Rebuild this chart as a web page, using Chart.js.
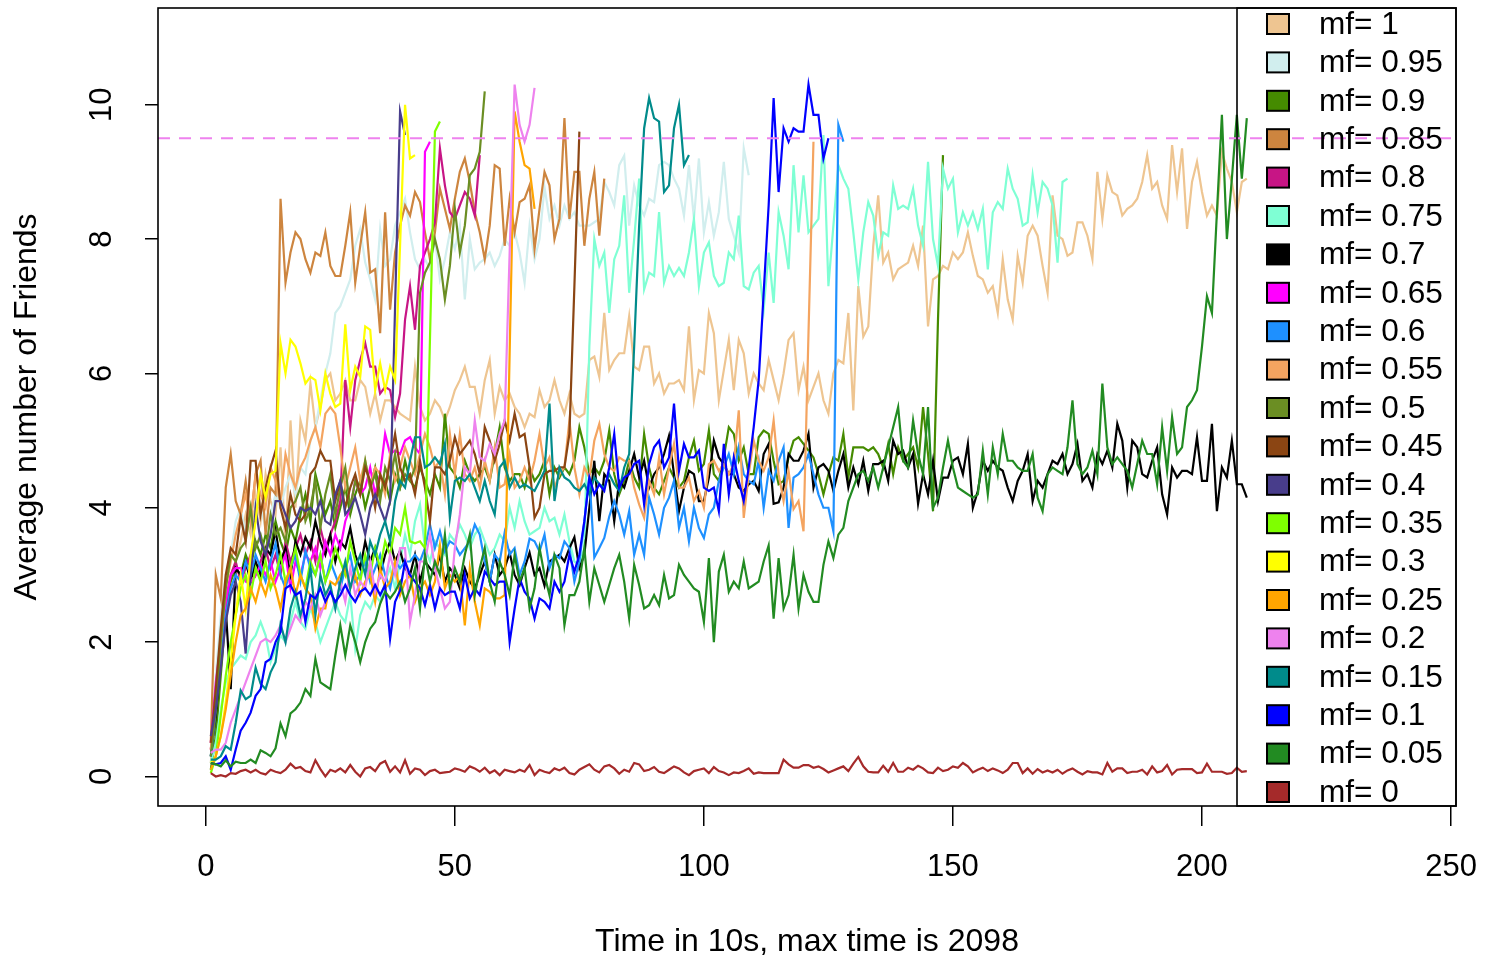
<!DOCTYPE html>
<html>
<head>
<meta charset="utf-8">
<script src="https://cdn.jsdelivr.net/npm/chart.js@4"></script>
<style>
  html, body { margin: 0; padding: 0; background: #fff; }
  #wrap { width: 1493px; height: 959px; }
</style>
</head>
<body>
<div id="wrap"><canvas id="friendsChart" width="1493" height="959"></canvas></div>
<script>
// legend labels and line colours, in legend order (mf=1 first)
const mfLabels = ['mf= 1','mf= 0.95','mf= 0.9','mf= 0.85','mf= 0.8','mf= 0.75','mf= 0.7','mf= 0.65','mf= 0.6','mf= 0.55','mf= 0.5','mf= 0.45','mf= 0.4','mf= 0.35','mf= 0.3','mf= 0.25','mf= 0.2','mf= 0.15','mf= 0.1','mf= 0.05','mf= 0'];
const lineColors = ['#EEC591','#D1EEEE','#458B00','#CD853F','#C71585','#7FFFD4','#000000','#FF00FF','#1E90FF','#F4A460','#6B8E23','#8B4513','#483D8B','#7FFF00','#FFFF00','#FFA500','#EE82EE','#008B8B','#0000FF','#228B22','#A52A2A'];

const xTicks = [0, 50, 100, 150, 200, 250];
const yTicks = [0, 2, 4, 6, 8, 10];
const targetLevel = 9.5;

// average number of friends, one value per 10s step starting at t=1
const mf1 = [0.2,1.0,1.8,2.5,3.0,3.2,3.5,3.9,3.6,4.2, 3.8,4.5,4.1,3.9,4.9,3.4,5.3,4.0,5.3,5.0,
  5.85,5.2,5.5,5.9,6.0,5.6,5.7,5.9,5.6,5.6, 5.9,5.8,5.4,5.7,5.3,5.6,5.6,5.5,5.4,5.35,
  5.3,6.1,5.5,5.3,5.4,5.6,5.5,5.3,5.5,5.75, 5.9,6.1,5.8,5.8,5.4,5.9,6.2,5.4,5.8,5.6,
  5.7,5.5,5.4,5.2,5.4,5.35,5.75,5.5,5.6,5.9, 5.6,5.4,5.7,5.4,5.35,5.4,6.2,6.25,5.95,6.9,
  6.05,6.2,6.3,6.3,6.85,6.1,6.05,6.4,6.4,5.85, 6.0,5.7,5.85,5.85,5.9,5.75,6.7,5.6,6.05,6.0,
  6.9,6.6,5.6,6.05,6.5,5.75,6.5,6.3,5.7,6.0, 5.85,5.75,6.2,5.9,5.6,6.0,6.5,6.6,5.75,6.1,
  5.6,5.8,6.0,5.6,5.4,6.0,6.2,6.15,6.9,5.45, 7.3,6.55,6.7,7.9,8.65,7.65,7.8,7.4,7.55,7.6,
  7.65,7.9,7.6,8.2,6.7,7.4,7.45,7.6,7.55,7.8, 7.7,7.8,8.1,7.75,7.45,7.4,7.2,7.3,6.9,7.7,
  7.1,6.8,7.75,7.35,8.05,8.2,8.05,7.6,7.2,8.65, 8.05,8.0,7.75,7.8,8.25,8.25,8.05,7.7,9.0,8.3,
  8.95,8.7,8.65,8.35,8.45,8.5,8.6,8.85,9.25,8.75, 8.85,8.5,8.3,9.4,8.7,9.35,8.15,8.85,9.15,8.7,
  8.35,8.5,8.35,9.3,9.05,8.85,8.4,8.85,8.9];
const mf095 = [0.3,1.5,2.4,3.0,3.3,3.8,4.0,3.6,3.9,4.1, 4.0,3.7,3.9,4.2,4.0,4.3,4.5,4.2,4.6,4.5,
  5.0,5.2,5.6,6.0,6.3,6.9,7.0,7.2,7.4,7.9, 8.15,7.65,7.4,7.1,8.15,7.6,7.7,8.2,8.4,8.6,
  8.1,7.7,7.55,7.7,7.55,8.0,7.4,7.7,8.1,7.85, 8.2,7.1,8.0,7.55,7.65,7.7,7.8,7.6,7.75,8.0,
  7.9,8.1,7.8,7.35,8.2,7.7,8.0,8.77,8.3,8.5, 8.2,8.5,8.3,8.4,8.2,8.2,8.2,8.25,8.3,8.85,
  8.7,8.5,9.1,9.24,8.2,8.8,8.5,8.35,8.6,8.55, 9.1,9.15,9.1,8.9,8.75,8.35,9.1,8.3,9.2,8.1,
  8.55,8.05,8.4,9.15,8.3,8.05,7.8,9.35,8.95];
const mf09 = [0.1,0.6,1.5,2.4,2.9,3.1,3.0,3.3,3.1,3.5, 3.3,3.6,3.4,3.8,3.5,3.3,3.7,3.5,3.9,4.2,
  3.8,4.5,4.2,3.9,4.1,3.7,4.0,4.3,3.9,4.2, 4.4,4.0,4.3,4.6,4.2,4.4,4.1,4.5,4.3,4.7,
  4.4,4.3,4.6,4.4,4.2,4.5,4.3,5.4,4.6,4.5, 4.3,4.7,4.5,4.4,4.5,4.6,4.4,4.8,5.2,4.6,
  4.4,4.5,4.5,4.3,4.6,4.4,4.5,4.7,4.2,4.6, 4.45,4.6,4.5,4.7,5.2,4.9,4.5,4.6,4.5,4.7,
  5.15,4.5,4.2,4.4,4.7,4.45,4.3,5.1,4.6,4.3, 4.2,4.4,4.6,4.45,4.3,4.4,4.75,5.0,4.55,4.65,
  5.15,4.5,4.4,4.75,5.2,5.1,4.7,4.9,4.5,4.5, 5.05,5.15,5.1,4.7,4.35,4.4,4.75,5.0,5.05,4.95,
  4.85,4.75,4.5,4.2,4.5,4.75,4.7,5.1,4.45,4.9, 4.9,4.9,4.85,4.9,4.8,4.6,4.95,4.5,4.9,4.7,
  4.8,4.9,4.6,5.5,4.8,3.95,6.8,9.25];
const mf085 = [0.5,3.0,2.65,4.3,4.8,4.1,3.9,4.4,3.8,4.5, 4.7,3.6,4.3,4.2,8.6,7.35,7.8,8.1,8.0,7.7,
  7.5,7.8,7.75,8.1,7.6,7.45,7.45,7.9,8.4,7.35, 7.9,8.4,7.5,7.55,6.6,8.4,6.95,7.8,8.2,8.5,
  8.35,8.7,8.55,8.1,7.7,8.1,8.75,8.45,8.15,8.6, 9.0,9.2,8.85,8.4,8.1,7.7,8.2,9.1,9.05,7.9,
  8.6,8.1,8.55,8.6,8.8,7.85,8.45,9.0,8.8,8.0, 8.3,9.8,8.3,9.0,9.0,7.9,8.6,9.0,8.05,8.9];
const mf08 = [0.4,1.2,2.0,2.6,3.0,3.2,2.9,3.1,3.3,3.0, 3.2,3.4,3.1,3.3,3.0,3.5,3.2,3.4,3.6,3.3,
  3.5,3.2,3.7,3.4,3.6,3.8,4.1,5.9,5.2,5.9, 6.2,6.45,6.1,6.1,5.7,5.8,5.75,5.35,5.7,6.8,
  7.3,6.65,7.6,7.8,8.0,8.25,9.35,8.8,8.4,8.3, 8.5,8.7,8.6,8.35,9.25];
const mf075 = [0.2,0.5,1.0,1.4,1.6,1.7,1.8,1.75,2.0,2.1, 2.3,2.1,1.7,1.9,2.1,2.0,2.3,2.6,2.3,2.2,
  2.5,2.3,2.0,2.2,2.4,2.6,2.4,2.3,2.7,1.9, 2.4,2.6,2.5,2.7,2.6,2.9,3.1,2.8,3.2,3.6,
  3.3,3.8,4.05,3.4,3.2,3.5,3.4,3.3,3.6,3.5, 3.75,3.6,3.4,3.6,3.7,3.5,3.3,3.4,3.6,3.5,
  4.0,3.7,4.1,3.8,3.6,3.65,3.7,4.0,3.8,3.85, 3.6,3.9,3.5,3.2,3.15,3.4,6.4,8.0,7.6,7.8,
  6.9,7.7,7.9,8.65,7.2,8.0,8.9,7.25,7.5,7.45, 8.4,7.35,7.6,7.45,7.57,7.45,7.8,8.3,7.3,7.8,
  7.95,7.45,7.3,7.35,7.8,7.7,8.35,7.3,7.25,7.5, 7.6,6.95,7.8,7.05,8.4,8.05,7.55,9.1,8.1,8.95,
  8.1,8.2,8.3,9.55,7.3,8.2,9.1,8.9,8.75,8.1, 7.4,8.1,8.55,8.35,7.75,8.1,8.05,8.8,8.45,8.5,
  8.45,8.75,8.2,7.9,9.15,8.0,7.6,9.05,8.75,8.9, 8.1,8.4,8.2,8.4,8.15,8.45,7.55,8.4,8.55,8.45,
  9.05,8.75,8.6,8.2,8.25,8.95,8.4,8.85,8.75,8.5, 7.65,8.85,8.9];
const mf07 = [0.3,0.9,1.8,2.5,1.3,3.1,3.0,3.2,2.9,3.2, 3.0,3.4,3.3,3.66,3.2,3.4,3.0,3.5,3.3,3.56,
  3.4,3.8,3.5,3.3,3.6,3.2,3.5,3.4,3.7,3.3, 3.1,3.5,3.2,3.4,3.0,3.3,3.5,3.2,3.36,3.1,
  3.0,3.3,2.9,3.2,3.1,3.0,3.3,2.9,3.1,3.0, 2.8,3.1,2.9,2.8,3.0,3.2,2.9,3.3,3.0,3.1,
  3.33,3.0,2.85,3.1,3.33,3.0,3.1,2.84,3.2,3.25, 3.3,3.2,3.4,3.56,3.1,3.3,4.0,4.7,3.8,4.5,
  4.4,3.8,4.4,4.3,4.55,4.8,4.45,4.7,4.3,4.5, 4.6,4.8,5.07,4.5,3.95,4.3,4.55,4.5,4.1,4.1,
  4.45,5.0,4.75,4.65,4.5,4.5,4.3,4.25,4.35,4.4, 4.25,4.8,4.95,4.06,4.08,4.3,4.8,4.7,4.7,4.85,
  5.1,4.3,4.6,4.65,4.55,4.25,4.55,4.8,4.3,4.6, 4.35,4.7,4.25,4.65,4.65,4.7,4.4,5.0,4.8,4.85,
  4.6,4.8,4.06,4.5,4.2,4.7,4.1,4.45,4.45,4.7, 4.75,4.5,4.95,4.0,4.25,4.7,4.55,4.7,4.6,4.55,
  4.3,4.1,4.4,4.55,4.8,4.1,4.4,4.3,4.5,4.7, 4.65,4.8,4.5,4.65,4.95,4.4,4.5,4.3,4.8,4.65,
  4.85,4.6,5.25,5.0,4.3,5.0,4.9,4.5,4.45,4.7, 4.9,4.2,3.9,4.6,4.45,4.55,4.55,4.5,5.05,4.4,
  4.4,5.25,3.95,4.6,4.45,5.0,4.35,4.35,4.15];
const mf065 = [0.5,1.4,2.0,2.6,3.0,3.1,3.1,2.9,2.9,3.0, 3.15,3.0,3.2,2.9,3.1,3.3,2.8,3.2,3.0,3.3,
  3.2,3.4,3.1,3.5,3.3,3.6,3.4,3.8,4.0,4.4, 4.2,4.3,4.6,4.2,4.5,5.1,4.8,4.85,4.8,5.0,
  5.05,4.9,4.8,9.3,9.45];
const mf06 = [0.3,1.0,1.8,2.4,2.8,3.0,2.9,3.2,3.0,3.3, 3.1,2.9,3.2,3.47,3.0,2.8,3.1,3.3,2.9,3.36,
  3.1,3.0,3.3,2.9,3.2,3.0,2.8,3.1,3.3,2.9, 3.0,3.2,2.9,3.1,3.3,3.0,2.8,3.2,3.1,3.2,
  3.2,3.3,3.2,3.4,3.75,3.4,3.65,3.35,3.5,3.45, 3.3,3.4,3.5,3.75,3.6,3.2,2.9,3.3,3.2,3.63,
  3.3,3.4,3.0,3.2,3.54,3.5,3.35,3.6,3.1,3.3, 3.25,3.5,3.4,2.9,3.2,3.8,4.47,3.26,3.4,3.55,
  3.87,4.1,3.9,3.6,3.95,3.3,3.6,3.3,4.15,3.9, 3.6,4.0,4.15,4.4,3.7,4.0,3.5,4.0,3.7,3.55,
  3.9,4.0,4.4,4.6,4.8,4.5,4.9,4.5,4.4,4.35, 4.7,4.0,4.55,4.4,4.7,4.9,3.7,4.45,4.5,4.6,
  4.8,4.5,4.2,4.0,4.0,3.65,9.7,9.45];
const mf055 = [0.4,1.2,2.0,2.8,3.2,3.6,3.9,4.2,3.8,4.5, 4.2,4.0,4.6,4.4,4.1,4.8,4.5,4.3,4.6,4.75,
  5.0,5.2,4.9,5.4,5.5,5.4,4.9,4.3,4.6,4.9, 4.4,4.7,4.3,4.6,4.5,4.2,4.8,4.4,4.6,4.9,
  4.7,4.5,4.8,5.1,4.9,4.6,4.7,4.2,5.1,4.5, 5.1,4.5,4.4,4.6,4.3,4.7,4.4,4.9,4.3,4.35,
  4.8,4.3,4.4,4.6,4.4,4.7,5.1,4.6,4.75,4.3, 4.5,4.6,5.3,4.6,4.2,4.6,4.45,5.0,5.25,4.8,
  4.6,4.55,4.75,4.7,4.7,4.3,4.05,3.85,4.4,4.2, 4.75,4.2,4.6,4.95,4.3,4.3,4.45,4.1,4.25,4.0,
  4.65,4.7,4.55,4.65,4.5,4.65,5.45,3.85,4.5,5.0, 4.7,4.55,4.75,5.3,4.5,4.1,4.55,3.98,4.1,3.65,
  6.6,9.45];
const mf05 = [0.3,1.0,2.0,2.8,3.3,3.2,3.4,3.5,4.0,3.4, 3.6,3.3,3.9,3.6,3.7,3.5,4.0,4.1,4.3,3.8,
  4.0,4.4,3.7,4.2,4.5,3.9,4.3,4.6,4.0,4.4, 4.2,4.7,4.3,4.5,4.1,4.6,4.4,4.8,4.3,4.5,
  4.4,4.6,7.2,7.5,7.65,8.0,7.7,7.1,7.6,8.45, 7.8,8.2,8.95,9.05,9.3,10.2];
const mf045 = [0.5,1.3,2.2,3.0,3.4,3.3,3.86,3.5,4.7,4.7, 3.9,4.3,4.6,4.85,4.0,3.7,4.2,3.9,3.8,3.9,
  4.5,4.6,4.85,4.7,4.7,4.1,4.4,4.0,4.3,4.5, 4.2,4.6,4.4,4.0,4.5,4.3,4.7,5.1,4.6,4.4,
  4.5,4.2,4.7,4.3,3.8,4.6,4.6,4.5,4.7,5.05, 4.8,4.9,5.0,4.8,4.5,5.2,5.0,4.7,4.95,5.3,
  5.0,5.4,5.05,5.1,4.6,3.85,4.0,4.5,4.55,4.55, 4.6,4.6,5.1,7.3,9.6];
const mf04 = [0.6,1.0,1.6,2.3,2.7,2.9,2.6,1.83,3.0,4.0, 3.5,3.3,3.6,4.1,4.1,3.9,3.7,3.8,4.0,3.95,
  4.0,3.9,4.1,3.8,3.75,4.2,4.4,3.9,4.0,4.15, 3.9,3.6,4.0,4.2,4.0,3.8,4.1,7.0,9.9,9.55];
const mf035 = [0.05,0.3,0.9,1.5,2.0,2.4,2.8,3.0,2.7,3.1, 2.9,3.2,2.8,3.0,3.3,2.9,3.1,3.4,3.0,2.8,
  3.2,3.0,3.3,2.9,3.1,3.4,3.2,3.0,3.5,3.2, 2.9,3.3,3.0,3.4,3.1,3.5,3.3,3.7,3.6,4.0,
  3.5,3.47,3.5,3.4,6.5,9.6,9.75];
const mf03 = [0.2,0.3,0.6,1.1,1.7,2.4,3.0,2.5,3.3,3.8, 4.5,4.15,4.5,4.55,6.45,6.0,6.5,6.4,6.15,5.85,
  5.95,5.9,5.45,6.0,5.7,5.5,5.55,6.73,5.75,6.1, 5.95,6.7,6.65,5.75,6.15,5.75,6.1,5.9,7.9,10.0,
  9.2,9.25];
const mf025 = [0.1,0.3,0.6,1.0,1.5,2.0,2.4,2.5,2.8,2.6, 2.9,2.7,3.0,2.8,2.5,2.9,3.1,2.7,3.0,2.8,
  2.7,2.2,2.5,2.5,2.9,2.85,3.0,3.1,2.8,3.0, 2.7,2.9,3.0,2.6,3.1,2.8,2.9,3.2,2.7,2.9,
  3.0,2.6,2.8,2.9,2.7,2.9,3.44,2.8,3.0,2.9, 3.0,2.25,3.1,2.6,2.25,2.8,2.75,2.65,2.65,2.7,
  6.3,9.9,9.45,9.1,9.05,8.45];
const mf02 = [0.35,0.4,0.4,0.5,0.8,1.0,1.2,1.4,1.6,1.8, 2.0,2.05,2.0,2.1,2.25,2.0,2.2,2.4,2.3,2.6,
  2.5,2.7,2.4,2.6,2.8,2.5,2.9,2.6,3.1,2.7, 2.9,2.8,3.2,2.75,3.0,2.9,3.3,3.0,3.4,3.4,
  2.3,2.7,3.2,3.2,3.6,3.1,2.8,2.5,2.6,3.4, 3.9,4.6,4.5,5.3,4.75,4.7,4.95,4.8,5.1,5.3,
  7.8,10.3,9.7,9.45,9.7,10.25];
const mf015 = [0.25,0.25,0.3,0.45,0.4,0.8,1.28,1.15,1.2,1.62, 1.38,1.3,1.55,1.7,2.27,2.0,2.5,2.75,2.4,2.65,
  3.1,2.4,3.0,2.7,2.85,2.5,2.9,3.2,2.8,3.1, 3.3,3.0,3.5,3.3,3.6,3.8,3.5,4.1,4.4,4.3,
  4.7,5.05,5.05,4.6,4.65,4.75,4.65,4.95,3.85,4.4, 4.45,4.4,4.5,4.3,4.1,4.4,4.1,3.9,4.6,4.7,
  4.3,4.45,4.3,4.35,4.3,4.25,4.4,4.55,5.55,4.1, 4.6,4.45,4.4,4.3,4.25,4.35,4.2,4.45,4.35,4.3,
  4.5,4.35,4.25,4.6,4.8,6.4,8.2,9.65,10.1,9.8, 9.75,8.7,8.8,9.65,10.0,9.1,9.25];
const mf01 = [0.2,0.18,0.2,0.3,0.1,0.4,0.68,0.8,0.95,1.2, 1.3,1.7,1.75,2.0,2.15,2.8,2.85,2.7,2.75,2.3,
  2.7,2.65,2.8,2.6,2.75,2.6,2.7,2.85,2.7,2.6, 2.75,2.8,2.7,2.85,2.7,2.85,2.05,2.6,2.77,3.2,
  3.0,2.9,2.8,2.55,2.85,2.5,2.8,2.7,2.75,2.75, 2.5,3.0,2.65,2.8,2.7,3.05,2.95,2.85,2.9,2.9,
  2.0,2.5,2.95,2.75,2.65,2.35,2.65,2.6,2.5,2.9, 2.75,2.9,3.3,3.05,3.3,3.8,4.45,4.2,4.35,4.25,
  4.6,5.1,4.3,4.45,4.5,4.65,4.7,4.05,4.65,4.9, 5.0,4.6,4.75,5.55,4.55,4.95,4.75,4.75,4.85,4.3,
  4.25,4.3,3.95,4.95,4.2,4.75,4.4,4.1,4.6,5.2, 5.9,7.2,8.5,10.1,8.7,9.65,9.45,9.65,9.6,9.6,
  10.3,9.85,9.85,9.2,9.5];
const mf005 = [0.2,0.18,0.15,0.24,0.15,0.22,0.2,0.2,0.25,0.2, 0.39,0.35,0.3,0.42,0.79,0.6,0.94,1.0,1.1,1.3,
  1.2,1.75,1.4,1.35,1.3,1.8,2.25,1.8,2.25,2.0, 1.7,2.0,2.2,2.3,2.57,2.75,2.65,2.75,2.9,2.6,
  2.8,3.1,2.5,3.3,2.9,3.2,3.0,3.6,2.8,3.1, 2.9,3.3,3.6,2.7,3.1,3.4,2.9,2.6,3.2,3.0,
  2.7,3.3,2.9,3.1,2.5,2.8,3.4,3.0,2.7,3.3, 3.1,2.25,2.7,2.7,2.9,3.4,2.6,3.1,2.85,2.6,
  2.85,3.1,3.3,2.9,2.35,3.15,2.85,2.5,2.55,2.7, 2.55,3.0,2.65,2.7,3.15,3.0,2.9,2.8,2.75,2.3,
  3.25,2.0,3.05,3.3,2.75,2.9,2.8,3.2,2.8,2.85, 2.9,3.2,3.44,2.35,3.25,2.5,2.7,3.3,2.5,3.0,
  2.75,2.6,2.6,3.15,3.5,3.25,3.6,3.7,4.1,4.3, 4.5,4.55,4.4,4.6,4.3,4.6,4.9,5.2,5.5,4.7,
  4.6,5.3,4.8,4.5,5.5,4.0,4.15,4.6,5.0,4.6, 4.3,4.25,4.2,4.15,4.2,4.85,4.2,4.9,4.5,5.1,
  4.7,4.7,4.6,4.55,4.55,4.8,4.15,3.95,4.5,4.6, 4.55,4.5,4.9,5.6,4.65,4.5,4.6,4.85,4.5,5.85,
  4.9,4.65,4.75,4.65,4.55,4.3,4.65,5.0,4.8,4.8, 4.35,5.2,4.55,5.35,4.8,4.9,5.5,5.6,5.75,6.4,
  7.15,6.9,8.4,9.85,8.0,8.9,9.85,8.9,9.8];
const mf0 = [0.05,0.0,0.02,0.0,0.05,0.04,0.08,0.1,0.06,0.1, 0.05,0.03,0.1,0.07,0.05,0.1,0.19,0.12,0.14,0.08,
  0.06,0.24,0.11,0.0,0.1,0.07,0.12,0.06,0.17,0.07, 0.0,0.12,0.14,0.08,0.19,0.23,0.07,0.15,0.06,0.24,
  0.04,0.12,0.1,0.02,0.08,0.1,0.05,0.06,0.07,0.12, 0.1,0.07,0.15,0.12,0.07,0.13,0.05,0.09,0.02,0.1,
  0.08,0.06,0.1,0.07,0.17,0.02,0.1,0.07,0.05,0.12, 0.09,0.13,0.05,0.03,0.1,0.14,0.18,0.1,0.06,0.15,
  0.17,0.12,0.04,0.1,0.07,0.2,0.18,0.08,0.1,0.14, 0.07,0.05,0.1,0.15,0.12,0.06,0.02,0.08,0.1,0.12,
  0.05,0.14,0.08,0.06,0.02,0.06,0.05,0.08,0.12,0.04, 0.06,0.05,0.05,0.05,0.05,0.25,0.18,0.13,0.13,0.17,
  0.17,0.13,0.15,0.11,0.06,0.09,0.12,0.15,0.08,0.19, 0.29,0.15,0.07,0.06,0.06,0.16,0.07,0.2,0.07,0.07,
  0.13,0.1,0.16,0.12,0.06,0.05,0.13,0.08,0.1,0.15, 0.13,0.2,0.15,0.06,0.1,0.13,0.08,0.12,0.09,0.05,
  0.1,0.2,0.2,0.05,0.12,0.04,0.11,0.06,0.09,0.06, 0.1,0.04,0.09,0.12,0.07,0.03,0.08,0.06,0.06,0.03,
  0.2,0.07,0.12,0.12,0.05,0.07,0.07,0.1,0.03,0.15, 0.06,0.08,0.17,0.03,0.1,0.11,0.11,0.11,0.05,0.06,
  0.19,0.07,0.07,0.07,0.04,0.05,0.13,0.07,0.08];

const series = [mf1, mf095, mf09, mf085, mf08, mf075, mf07, mf065, mf06, mf055, mf05,
  mf045, mf04, mf035, mf03, mf025, mf02, mf015, mf01, mf005, mf0];

const xMin = -9.6, xMax = 251;
const yMin = -0.44, yMax = 11.44;
const FONT = "'Liberation Sans', Arial, Helvetica, sans-serif";

const datasets = series.map((vals, i) => ({
  label: mfLabels[i],
  data: vals.map((v, k) => ({ x: k + 1, y: v })),
  borderColor: lineColors[i],
  borderWidth: 2.2,
  pointRadius: 0,
  tension: 0,
  fill: false,
  order: series.length - i   // lower mf drawn later, on top
}));

// dashed target line across the plot
datasets.push({
  label: 'target',
  data: [{ x: xMin, y: targetLevel }, { x: xMax, y: targetLevel }],
  borderColor: '#EE82EE',
  borderWidth: 2,
  borderDash: [12, 9],
  pointRadius: 0,
  order: -1
});

// box round the plot area, like R's box()
const boxPlugin = {
  id: 'plotBox',
  afterDraw(chart) {
    const { ctx, chartArea: a } = chart;
    ctx.save();
    ctx.strokeStyle = '#000';
    ctx.lineWidth = 1.6;
    ctx.strokeRect(a.left, a.top, a.right - a.left, a.bottom - a.top);
    ctx.restore();
  }
};

// legend box in the top right corner of the plot
const legendPlugin = {
  id: 'mfLegend',
  afterDraw(chart) {
    const { ctx, chartArea: a } = chart;
    const left = a.right - 219;
    ctx.save();
    ctx.strokeStyle = '#000';
    ctx.lineWidth = 1.6;
    ctx.strokeRect(left, a.top, a.right - left, a.bottom - a.top);
    ctx.font = '31.6px ' + FONT;
    ctx.textBaseline = 'middle';
    ctx.textAlign = 'left';
    const step = (a.bottom - a.top - 30) / (mfLabels.length - 1);
    mfLabels.forEach((lab, i) => {
      const yc = a.top + 16 + i * step;
      ctx.fillStyle = lineColors[i];
      ctx.fillRect(left + 30, yc - 10, 22, 20);
      ctx.lineWidth = 2;
      ctx.strokeRect(left + 30, yc - 10, 22, 20);
      ctx.fillStyle = '#000';
      ctx.fillText(lab, left + 82, yc + 1);
    });
    ctx.restore();
  }
};

// fixed box sizes so the plot area lands where R put it
function fixX(s) {
  s.height = 153;
  s.paddingLeft = 0; s.paddingRight = 0;
}
function fixY(s) {
  s.width = 158;
  s.paddingTop = 0; s.paddingBottom = 0;
}

const ctx = document.getElementById('friendsChart').getContext('2d');
new Chart(ctx, {
  type: 'line',
  data: { datasets },
  options: {
    responsive: false,
    animation: false,
    devicePixelRatio: 1,
    layout: { padding: { left: 0, right: 37, top: 8, bottom: 0 } },
    plugins: { legend: { display: false }, tooltip: { enabled: false } },
    scales: {
      x: {
        type: 'linear',
        min: xMin,
        max: xMax,
        afterBuildTicks: s => { s.ticks = xTicks.map(v => ({ value: v })); },
        afterFit: fixX,
        grid: { drawOnChartArea: false, drawTicks: true, tickLength: 20, color: '#000', lineWidth: 1.5 },
        border: { display: false },
        ticks: { padding: 23, color: '#000', font: { family: FONT, size: 31 }, maxRotation: 0, autoSkip: false },
        title: { display: true, text: 'Time in 10s, max time is 2098', color: '#000',
                 font: { family: FONT, size: 32 }, padding: { top: 0, bottom: -2 } }
      },
      y: {
        type: 'linear',
        min: yMin,
        max: yMax,
        afterBuildTicks: s => { s.ticks = yTicks.map(v => ({ value: v })); },
        afterFit: fixY,
        grid: { drawOnChartArea: false, drawTicks: true, tickLength: 13, color: '#000', lineWidth: 1.5 },
        border: { display: false },
        ticks: { minRotation: 90, maxRotation: 90, crossAlign: 'center', padding: 25, color: '#000',
                 font: { family: FONT, size: 31 } },
        title: { display: true, text: 'Average number of Friends', color: '#000',
                 font: { family: FONT, size: 32 }, padding: { top: 8, bottom: 0 } }
      }
    }
  },
  plugins: [boxPlugin, legendPlugin]
});
</script>
</body>
</html>
